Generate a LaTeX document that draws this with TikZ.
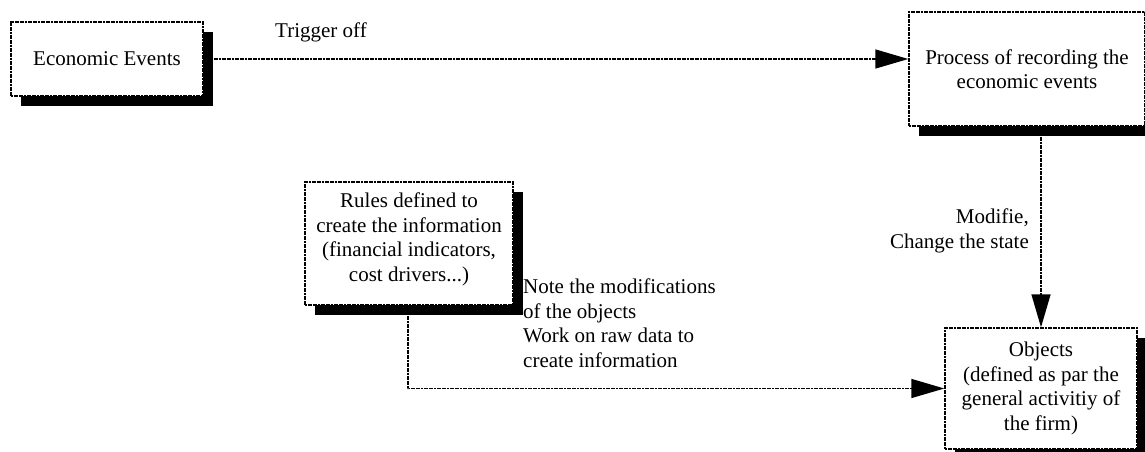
\documentclass[tikz,border=0pt]{standalone}
\usepackage{fontspec}
\setmainfont{Liberation Serif}
\usetikzlibrary{arrows.meta,shadows,calc}
\begin{document}
\begin{tikzpicture}[x=1pt,y=-1pt,
  font=\fontsize{21}{24.5}\selectfont,
  box/.style={draw, fill=white, line width=1.4pt, dash pattern=on 2pt off 0.6pt,
    align=center, inner sep=0pt,
    drop shadow={shadow xshift=10pt, shadow yshift=-10pt, fill=black, opacity=1}},
  link/.style={line width=1.4pt, dash pattern=on 2pt off 0.6pt,
    -{Triangle[length=33pt,width=19pt]}},
  lbl/.style={inner sep=0pt}]
  \useasboundingbox (0,0) rectangle (1145,452);
  \clip (0,0) rectangle (1145,452);

  % boxes
  \node[box, minimum width=192pt, minimum height=74pt] (ee) at (107,59) {Economic Events};
  \node[box, minimum width=236pt, minimum height=114pt] (proc) at (1027,69)
    {Process of recording the\\economic events};
  \node[box, minimum width=208pt, minimum height=123pt] (rules) at (409,243.5)
    {Rules defined to\\create the information\\(financial indicators,\\cost drivers...)\\[-12pt]\mbox{}};
  \node[box, minimum width=192pt, minimum height=121pt] (obj) at (1041,388.5)
    {Objects\\(defined as par the\\general activitiy of\\the firm)};

  % connector end points on the shadow edges
  \coordinate (eeOut) at ($(ee.east)+(10,0)$);
  \coordinate (procOut) at ($(obj.north |- proc.south)+(0,10)$);
  \coordinate (rulesOut) at ($(rules.south)+(-1,10)$);
  \coordinate (bend) at (rulesOut |- obj.west);

  % connectors
  \draw[link] (eeOut) -- (proc.west |- eeOut);
  \draw[link] (procOut) -- (obj.north);
  \draw[link] (rulesOut) -- (bend) -- (obj.west);

  % labels
  \node[lbl, anchor=west] (trig) at (275,32) {Trigger off};
  \node[lbl, anchor=east, align=right] (mod) at (1029,231) {Modifie,\\Change the state};
  \node[lbl, anchor=west, align=left] (note) at (523,323)
    {Note the modifications\\of the objects\\Work on raw data to\\create information};
\end{tikzpicture}
\end{document}
